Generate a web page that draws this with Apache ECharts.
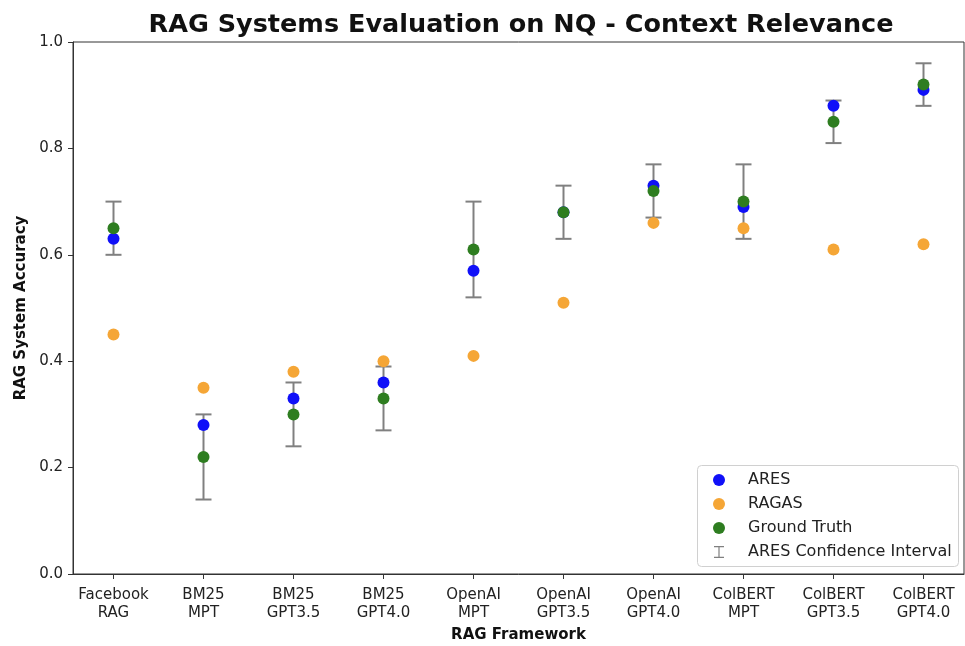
<!DOCTYPE html>
<html>
<head>
<meta charset="utf-8">
<script src="https://cdn.jsdelivr.net/npm/echarts@6/dist/echarts.min.js"></script>
<style>
  html, body { margin: 0; padding: 0; background: #fff; }
  #chart { width: 965px; height: 646px; }
</style>
</head>
<body>
<div id="chart"></div>
<script>
// categories (two-line tick labels)
const frameworks = [
  'Facebook\nRAG', 'BM25\nMPT', 'BM25\nGPT3.5', 'BM25\nGPT4.0', 'OpenAI\nMPT',
  'OpenAI\nGPT3.5', 'OpenAI\nGPT4.0', 'ColBERT\nMPT', 'ColBERT\nGPT3.5', 'ColBERT\nGPT4.0'
];
const aresScores = [0.63, 0.28, 0.33, 0.36, 0.57, 0.68, 0.73, 0.69, 0.88, 0.91];
const ragasScores = [0.45, 0.35, 0.38, 0.40, 0.41, 0.51, 0.66, 0.65, 0.61, 0.62];
const groundTruth = [0.65, 0.22, 0.30, 0.33, 0.61, 0.68, 0.72, 0.70, 0.85, 0.92];
const ciLow = [0.60, 0.14, 0.24, 0.27, 0.52, 0.63, 0.67, 0.63, 0.81, 0.88];
const ciHigh = [0.70, 0.30, 0.36, 0.39, 0.70, 0.73, 0.77, 0.77, 0.89, 0.96];
const yTicks = [0, 0.2, 0.4, 0.6, 0.8, 1.0];

const idx = frameworks.map((_, i) => i);
const toPoints = arr => arr.map((v, i) => [i, v]);

const font = 'DejaVu Sans';
const ink = '#222';

const chart = echarts.init(document.getElementById('chart'));

chart.setOption({
  animation: false,
  backgroundColor: '#fff',
  title: {
    text: 'RAG Systems Evaluation on NQ - Context Relevance',
    left: 516,
    top: 7,
    textAlign: 'center',
    textStyle: { fontFamily: font, fontSize: 25.5, fontWeight: 'bold', color: '#111' }
  },
  grid: {
    left: 73, right: 1, top: 42, bottom: 72,
    outerBoundsMode: 'none',
    show: true, borderColor: '#333', borderWidth: 1, backgroundColor: 'transparent'
  },
  xAxis: {
    type: 'value',
    min: -0.45,
    max: 9.45,
    name: 'RAG Framework',
    nameLocation: 'middle',
    nameGap: 54,
    nameTextStyle: { fontFamily: font, fontSize: 15, fontWeight: 'bold', color: '#111' },
    splitLine: { show: false },
    axisLine: { show: true, onZero: false, lineStyle: { color: '#333', width: 1 } },
    axisTick: { show: true, length: 5, customValues: idx, lineStyle: { color: '#333' } },
    axisLabel: {
      customValues: idx,
      formatter: v => frameworks[Math.round(v)],
      fontFamily: font, fontSize: 15, color: ink, lineHeight: 18, margin: 12
    }
  },
  yAxis: {
    type: 'value',
    min: 0,
    max: 1,
    name: 'RAG System Accuracy',
    nameLocation: 'middle',
    nameGap: 44,
    nameTextStyle: { fontFamily: font, fontSize: 15, fontWeight: 'bold', color: '#111' },
    splitLine: { show: false },
    axisLine: { show: true, onZero: false, lineStyle: { color: '#333', width: 1 } },
    axisTick: { show: true, length: 5, customValues: yTicks, lineStyle: { color: '#333' } },
    axisLabel: {
      customValues: yTicks,
      formatter: v => v.toFixed(1),
      fontFamily: font, fontSize: 15, color: ink, margin: 10
    }
  },
  legend: {
    orient: 'vertical',
    left: 713,
    top: 472,
    padding: 0,
    itemWidth: 48,
    itemHeight: 12,
    itemGap: 8,
    textStyle: { fontFamily: font, fontSize: 16, color: ink, lineHeight: 16 },
    data: [
      { name: 'ARES', icon: 'circle' },
      { name: 'RAGAS', icon: 'circle' },
      { name: 'Ground Truth', icon: 'circle' },
      { name: 'ARES Confidence Interval', icon: 'path://M0,0H10V1.2H5.6V10.8H10V12H0V10.8H4.4V1.2H0Z' }
    ]
  },
  graphic: [{
    type: 'rect',
    left: 697, top: 465,
    shape: { width: 261, height: 101, r: 4 },
    style: { fill: 'rgba(255,255,255,0.85)', stroke: '#d0d0d0', lineWidth: 1 },
    z: 1
  }],
  series: [
    {
      name: 'ARES Confidence Interval',
      type: 'custom',
      itemStyle: { color: '#808080' },
      data: idx.map(i => [i, ciLow[i], ciHigh[i]]),
      encode: { x: 0, y: [1, 2] },
      renderItem: (params, api) => {
        const top = api.coord([api.value(0), api.value(2)]);
        const bot = api.coord([api.value(0), api.value(1)]);
        const cap = 8;
        const st = { stroke: '#808080', lineWidth: 2 };
        return {
          type: 'group',
          children: [
            { type: 'line', shape: { x1: top[0], y1: top[1], x2: bot[0], y2: bot[1] }, style: st },
            { type: 'line', shape: { x1: top[0] - cap, y1: top[1], x2: top[0] + cap, y2: top[1] }, style: st },
            { type: 'line', shape: { x1: bot[0] - cap, y1: bot[1], x2: bot[0] + cap, y2: bot[1] }, style: st }
          ]
        };
      },
      z: 2
    },
    {
      name: 'ARES', type: 'scatter', symbolSize: 12,
      itemStyle: { color: '#1010f8', opacity: 1 },
      data: toPoints(aresScores), z: 3
    },
    {
      name: 'RAGAS', type: 'scatter', symbolSize: 12,
      itemStyle: { color: '#f5a636', opacity: 1 },
      data: toPoints(ragasScores), z: 4
    },
    {
      name: 'Ground Truth', type: 'scatter', symbolSize: 12,
      itemStyle: { color: '#2e7d20', opacity: 1 },
      data: toPoints(groundTruth), z: 5
    }
  ]
});

window.onresize = function () {
  chart.resize();
};
</script>
</body>
</html>
